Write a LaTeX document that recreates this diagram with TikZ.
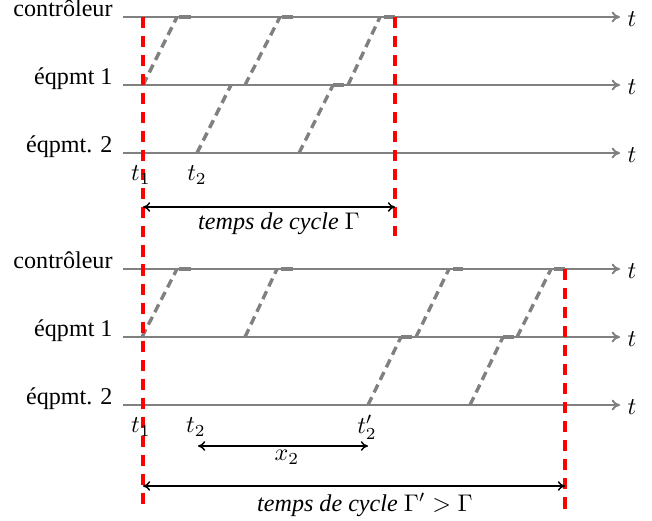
\documentclass[tikz,border=0pt]{standalone}
\usepackage{fontspec}
\setmainfont{Liberation Serif}
\usetikzlibrary{arrows.meta}
\begin{document}
\begin{tikzpicture}[x=0.415pt,y=-0.415pt,
  axisline/.style={draw=gray,line width=0.8pt,-{To[length=3.5pt,width=4.5pt]}},
  msg/.style={draw=gray,line width=1.4pt,dash pattern=on 3.6pt off 2.2pt},
  busy/.style={draw=gray,line width=2pt},
  cyc/.style={draw=red,line width=1.9pt,dash pattern=on 4.6pt off 3.3pt},
  span/.style={draw=black,line width=0.6pt,{To[length=3pt,width=4pt]}-{To[length=3pt,width=4pt]}},
  lab/.style={anchor=base east,inner sep=0pt},
  tl/.style={inner sep=0pt}]
\useasboundingbox (0,0) rectangle (652,520);
% ---------- top diagram ----------
\foreach \yy/\nm/\txt in {17/c/contrôleur,85/e/éqpmt 1,153/f/éqpmt. 2}{
  \node[lab] (L\nm) at (113,\yy-1) {\txt};
  \coordinate (A\nm) at (123,\yy);
  \coordinate (B\nm) at (620,\yy);
  \draw[axisline] (A\nm) -- (B\nm);
  \node[tl] (T\nm) at (632,\yy+2) {$t$};
}
\draw[msg] (143,85) -- (177,17);
\draw[busy] (179,17) -- (191,17);
\draw[msg] (197,153) -- (231,85);
\draw[msg] (245,85) -- (280,17);
\draw[busy] (282,17) -- (293,17);
\draw[msg] (299,153) -- (333,85);
\draw[busy] (333,85) -- (344,85);
\draw[msg] (348,85) -- (380,17);
\draw[busy] (384,17) -- (395,17);
% ---------- bottom diagram ----------
\foreach \yy/\nm/\txt in {269/c/contrôleur,337/e/éqpmt 1,405/f/éqpmt. 2}{
  \node[lab] (M\nm) at (113,\yy-1) {\txt};
  \coordinate (C\nm) at (123,\yy);
  \coordinate (D\nm) at (620,\yy);
  \draw[axisline] (C\nm) -- (D\nm);
  \node[tl] (U\nm) at (632,\yy+2) {$t$};
}
\draw[msg] (142,337) -- (177,269);
\draw[busy] (179,269) -- (191,269);
\draw[msg] (245,337) -- (277,269);
\draw[busy] (281,269) -- (293,269);
\draw[msg] (368,405) -- (401,337);
\draw[busy] (401,337) -- (412,337);
\draw[msg] (416,337) -- (449,269);
\draw[busy] (453,269) -- (463,269);
\draw[msg] (470,405) -- (503,337);
\draw[busy] (503,337) -- (514,337);
\draw[msg] (517,337) -- (551,269);
\draw[busy] (554,269) -- (565,269);
% ---------- red cycle markers ----------
\coordinate (r1a) at (143,17);  \coordinate (r1b) at (143,508);
\coordinate (r2a) at (395,17);  \coordinate (r2b) at (395,236);
\coordinate (r3a) at (565,269); \coordinate (r3b) at (565,514);
\draw[cyc] (r1a) -- (r1b);
\draw[cyc] (r2a) -- (r2b);
\draw[cyc] (r3a) -- (r3b);
% ---------- labels and spans ----------
\node[tl] (t1a) at (141,175) {$t_1$};
\node[tl] (t2a) at (197,175) {$t_2$};
\coordinate (g1a) at (143,207); \coordinate (g1b) at (395,207);
\draw[span] (g1a) -- (g1b);
\node[tl] (G1) at (279,224) {\textit{temps de cycle} $\Gamma$};
\node[tl] (t1b) at (141,427) {$t_1$};
\node[tl] (t2b) at (196,427) {$t_2$};
\node[tl] (t2c) at (367,427) {$t_2'$};
\coordinate (xa) at (198,446); \coordinate (xb) at (368,446);
\draw[span] (xa) -- (xb);
\node[tl] (X2) at (287,457) {$x_2$};
\coordinate (g2a) at (143,486); \coordinate (g2b) at (565,486);
\draw[span] (g2a) -- (g2b);
\node[tl] (G2) at (365,505) {\textit{temps de cycle} $\Gamma' > \Gamma$};
\end{tikzpicture}
\end{document}
